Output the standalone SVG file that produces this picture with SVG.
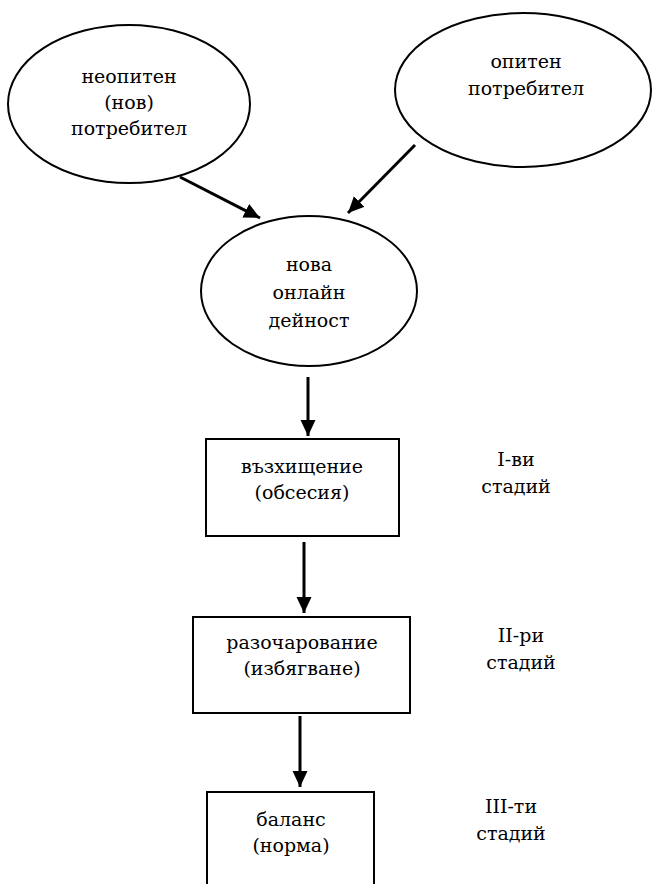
<svg xmlns="http://www.w3.org/2000/svg" width="653" height="884" viewBox="0 0 653 884">
<style>
.shape{fill:#fff;stroke:#000;stroke-width:2}
.t{font-family:"DejaVu Serif","Liberation Serif",serif;font-size:19px;fill:#000;text-anchor:middle}
.conn{stroke:#000;stroke-width:3;fill:none}
</style>
<defs>
<marker id="ah" markerUnits="userSpaceOnUse" markerWidth="17" markerHeight="16" refX="16" refY="7.5" orient="auto">
<path d="M0,0 L16,7.5 L0,15 z" fill="#000"/>
</marker>
</defs>
<rect width="653" height="884" fill="#fff"/>
<g id="connectors">
<line class="conn" x1="180" y1="177" x2="260" y2="218" marker-end="url(#ah)"/>
<line class="conn" x1="415" y1="145" x2="348" y2="213" marker-end="url(#ah)"/>
<line class="conn" x1="308" y1="377" x2="308" y2="436" marker-end="url(#ah)"/>
<line class="conn" x1="304" y1="542" x2="304" y2="613" marker-end="url(#ah)"/>
<line class="conn" x1="300" y1="716" x2="300" y2="787" marker-end="url(#ah)"/>
</g>
<g id="novice">
<ellipse class="shape" cx="129" cy="104" rx="121" ry="79"/>
<text class="t" x="129" y="83">неопитен</text>
<text class="t" x="129" y="109">(нов)</text>
<text class="t" x="129" y="135">потребител</text>
</g>
<g id="experienced">
<ellipse class="shape" cx="523" cy="90" rx="128" ry="77"/>
<text class="t" x="526" y="68">опитен</text>
<text class="t" x="526" y="95">потребител</text>
</g>
<g id="activity">
<ellipse class="shape" cx="309" cy="291" rx="108" ry="75"/>
<text class="t" x="309" y="271">нова</text>
<text class="t" x="309" y="299">онлайн</text>
<text class="t" x="309" y="327">дейност</text>
</g>
<g id="stage1">
<rect class="shape" x="206" y="439" width="193" height="97"/>
<text class="t" x="302" y="473">възхищение</text>
<text class="t" x="302" y="499">(обсесия)</text>
</g>
<g id="stage1-label">
<text class="t" x="516" y="466">I-ви</text>
<text class="t" x="516" y="493">стадий</text>
</g>
<g id="stage2">
<rect class="shape" x="193" y="617" width="217" height="96"/>
<text class="t" x="302" y="649">разочарование</text>
<text class="t" x="302" y="675">(избягване)</text>
</g>
<g id="stage2-label">
<text class="t" x="521" y="642">II-ри</text>
<text class="t" x="521" y="669">стадий</text>
</g>
<g id="stage3">
<rect class="shape" x="207" y="792" width="167" height="100"/>
<text class="t" x="291" y="826">баланс</text>
<text class="t" x="291" y="852">(норма)</text>
</g>
<g id="stage3-label">
<text class="t" x="511" y="813">III-ти</text>
<text class="t" x="511" y="840">стадий</text>
</g>
</svg>
